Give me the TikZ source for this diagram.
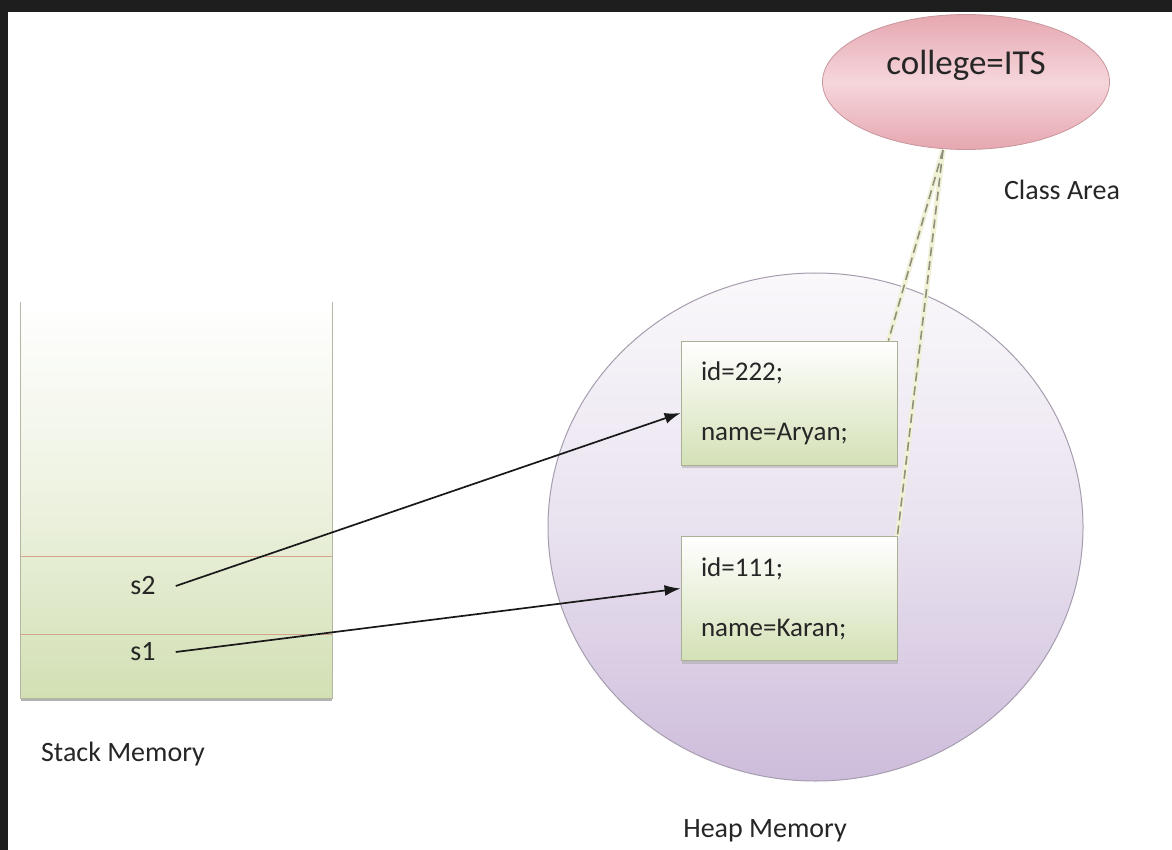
\documentclass[tikz,border=0pt]{standalone}
\usepackage{fontspec}
\setmainfont{Carlito}
\usetikzlibrary{shapes.geometric,arrows.meta,shadows}
\definecolor{framecol}{HTML}{1E1E1E}
\definecolor{stackgreen}{HTML}{D2E0B4}
\definecolor{stackmid}{HTML}{EDF2E0}
\definecolor{stackedge}{HTML}{B4B8A2}
\definecolor{divline}{HTML}{D2A48C}
\definecolor{heaptop}{HTML}{FAF8FB}
\definecolor{heapbot}{HTML}{CDBCDB}
\definecolor{heapmid}{HTML}{E9E2EF}
\definecolor{heapedge}{HTML}{A69DAE}
\definecolor{pinkedge}{HTML}{E6A7B0}
\definecolor{pinkmid}{HTML}{F5D6DB}
\definecolor{pinkline}{HTML}{C9969D}
\definecolor{boxgreen}{HTML}{D4E1B6}
\definecolor{boxedge}{HTML}{A9B094}
\definecolor{dashcol}{HTML}{8F907E}
\definecolor{dashhalo}{HTML}{F1F1D6}
\definecolor{txt}{HTML}{262626}
\tikzset{
  objbox/.style={rectangle, draw=boxedge, line width=0.8pt, top color=white, bottom color=boxgreen,
    minimum width=216pt, minimum height=124pt, text width=176pt, inner xsep=20pt, align=left,
    font=\fontsize{27}{60}\selectfont, text=txt,
    drop shadow={shadow xshift=1pt, shadow yshift=-3pt, fill=black!35}},
  lbl/.style={font=\fontsize{28}{34}\selectfont, text=txt, inner sep=0pt},
  arr/.style={-{Latex[length=16pt,width=11pt]}, line width=1.7pt, black!90},
  classlink/.style={dashcol, line width=1.6pt, dash pattern=on 9pt off 5pt},
  halo/.style={dashhalo, line width=5pt}
}
\begin{document}
\begin{tikzpicture}[x=1pt,y=-1pt]
\useasboundingbox (0,0) rectangle (1172,850);
\fill[white] (0,0) rectangle (1172,850);
\fill[framecol] (0,0) rectangle (1172,12);
\fill[framecol] (0,0) rectangle (8,850);

% stack memory
\shade[top color=white, bottom color=stackgreen, middle color=stackmid] (20,302) rectangle (332,698);
\draw[black!30, line width=2.5pt] (21,700) -- (332,700);
\draw[stackedge, line width=0.8pt] (20,302) -- (20,698) -- (332,698) -- (332,302);
\draw[divline, line width=0.8pt] (20,556) -- (332,556);
\draw[divline, line width=0.8pt] (20,634) -- (332,634);
\node[lbl] (s2) at (143,586) {s2};
\node[lbl] (s1) at (143,652) {s1};
\node[lbl] (stacklbl) at (123,754) {Stack Memory};

% heap memory
\node[ellipse, draw=heapedge, line width=1pt, top color=heaptop, bottom color=heapbot, middle color=heapmid,
  minimum width=535pt, minimum height=508pt, inner sep=0pt] (heap) at (815.5,527) {};
\node[lbl] (heaplbl) at (765,831) {Heap Memory};

\node[objbox] (b1) at (789,403) {id=222;\\name=Aryan;};
\node[objbox] (b2) at (789,598.5) {id=111;\\name=Karan;};

% class area
\node[ellipse, draw=pinkline, line width=0.8pt, top color=pinkedge, bottom color=pinkedge, middle color=pinkmid,
  minimum width=287pt, minimum height=135pt, inner sep=0pt, text=txt,
  font=\fontsize{35}{40}\selectfont, text depth=40pt] (college) at (966,82) {college=ITS};
\node[lbl] (classlbl) at (1062,190) {Class Area};

\coordinate (cb) at (943,150);
\draw[halo] (cb) -- ([xshift=-9pt]b1.north east);
\draw[halo] (cb) -- (b2.north east);
\draw[classlink] (cb) -- ([xshift=-9pt]b1.north east);
\draw[classlink] (cb) -- (b2.north east);

% references
\draw[arr] ([xshift=20pt]s2.east) -- ([yshift=-10pt]b1.west);
\draw[arr] ([xshift=20pt]s1.east) -- ([yshift=10pt]b2.west);
\end{tikzpicture}
\end{document}
